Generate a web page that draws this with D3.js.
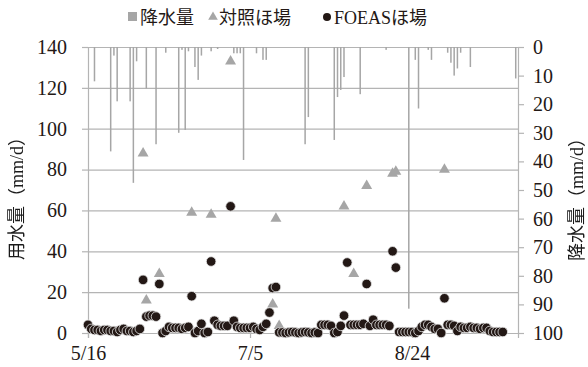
<!DOCTYPE html>
<html>
<head>
<meta charset="utf-8">
<script src="https://cdn.jsdelivr.net/npm/d3@7"></script>
<style>
  body { margin: 0; background: #fff; }
  .axis-title { filter: grayscale(100%); }
</style>
</head>
<body>
<div id="chart"></div>
<script>
// first date of the series; every day index below counts from here
const startDate = '2015-05-16';

// FOEAS field water use (mm/d), one value per day from 5/16
const foeasUse = [
  4, 2, 1.5, 1.5, 1, 1.5, 1.5, 1, 1, 0.5,
  1.5, 2, 1, 1, 0.5, 1, 2, 26, 8, 8.5,
  8.5, 8, 24, 0, 1, 3, 2.5, 2.5, 2.5, 2,
  2.5, 3, 18, 0, 1, 4.5, 0, 0.5, 35, 6,
  4, 3.5, 3.5, 3.5, 62, 6, 3, 2.5, 2.5, 2.5,
  2.5, 3, 2, 1.5, 3, 4.5, 10, 22, 22.5, 0.3,
  0.3, 0, 0.3, 0.5, 0.3, 0, 0.3, 0.5, 0.3, 0,
  0.3, 0, 4, 4, 4, 3.5, 0, 0.5, 3.5, 8.5,
  34.5, 4, 4, 4, 4, 4.5, 24, 3.5, 6.5, 4,
  4, 4, 4, 3.5, 40, 32, 0.5, 0.5, 0.5, 0.5,
  0.5, 0, 1, 3, 4, 4, 3, 2, 2, 0,
  17, 4, 4, 3.5, 1, 3, 2.5, 2.5, 3, 2.5,
  2.5, 2, 2.5, 2.5, 1, 0.5, 0.5, 0.5, 0.5
];

// control field water use (mm/d), measured on some days only
const controlDay = [17, 18, 22, 32, 38, 44, 57, 58, 59, 79, 82, 86, 94, 95, 110];
const controlUse = [88, 16, 29, 59, 58, 133, 14, 56, 3.5, 62, 29, 72, 78, 79, 80];

// daily rainfall (mm/d)
const rainDay = [2, 7, 8, 9, 13, 14, 15, 18, 21, 24, 28, 29, 30, 31, 33, 34, 35, 38, 40,
  45, 46, 47, 48, 52, 54, 55, 67, 68, 76, 77, 78, 79, 84, 92, 99, 101, 102,
  105, 106, 111, 112, 113, 114, 115, 118, 132];
const rainMm = [12, 36.5, 3, 19, 19, 47.5, 5, 14.5, 34, 2, 30, 1, 29, 1.5, 7, 11.5, 3, 1.5, 0.7,
  2.2, 2.2, 2.2, 39.5, 2.2, 4.5, 4.5, 34, 24.5, 32.5, 17.5, 15, 10.5, 16.5, 1, 91.5, 4.5, 21.5,
  1, 4.5, 2, 5.5, 10, 7.5, 2, 7, 11];

const xTickDays = [0, 50, 100];
const useTicks = [0, 20, 40, 60, 80, 100, 120, 140];
const rainTicks = [0, 10, 20, 30, 40, 50, 60, 70, 80, 90, 100];

const legendItems = ['降水量', '対照ほ場', 'FOEASほ場'];

const numFont = '"Liberation Serif", "DejaVu Serif", serif';
const jpFont = '"Liberation Serif", "Noto Sans CJK JP", sans-serif';
const textColor = '#231815';

const t0 = d3.utcParse('%Y-%m-%d')(startDate);
const dateLabel = d => d3.utcFormat('%-m/%-d')(d3.utcDay.offset(t0, d));

const svg = d3.select('#chart').append('svg')
  .attr('width', 588)
  .attr('height', 367);

const x = d3.scaleLinear().domain([0, 132.7]).range([88, 518]);
const yUse = d3.scaleLinear().domain([0, 140]).range([333, 47]);
const yRain = d3.scaleLinear().domain([0, 100]).range([47, 333]);

const gridColor = '#b4b4b4';
const markColor = '#a6a6a6';

const styleAxis = g => {
  g.attr('font-family', numFont).attr('font-size', 20);
  g.selectAll('line, .domain').attr('stroke', gridColor).attr('stroke-width', 1.2);
  g.selectAll('text').attr('fill', textColor);
};

// horizontal gridlines
svg.append('g')
  .attr('transform', 'translate(88,0)')
  .call(d3.axisLeft(yUse).tickValues(useTicks).tickSize(-430).tickFormat(''))
  .call(g => g.select('.domain').remove())
  .call(g => g.selectAll('line').attr('stroke', gridColor).attr('stroke-width', 1.2));

// rainfall bars hanging from the top
svg.append('g')
  .selectAll('rect')
  .data(rainDay.map((d, i) => ({ day: d, mm: rainMm[i] })))
  .join('rect')
  .attr('x', d => x(d.day) - 0.75)
  .attr('width', 1.5)
  .attr('y', yRain(0))
  .attr('height', d => yRain(d.mm) - yRain(0))
  .attr('fill', markColor);

// left axis
svg.append('g')
  .attr('transform', 'translate(88,0)')
  .call(d3.axisLeft(yUse).tickValues(useTicks).tickSize(6).tickPadding(15))
  .call(styleAxis);

// right axis
svg.append('g')
  .attr('transform', 'translate(518,0)')
  .call(d3.axisRight(yRain).tickValues(rainTicks).tickSize(6).tickPadding(9))
  .call(styleAxis);

// bottom axis
svg.append('g')
  .attr('transform', 'translate(0,333)')
  .call(d3.axisBottom(x).tickValues(xTickDays).tickFormat(dateLabel).tickSize(5).tickPadding(8))
  .call(styleAxis);

// control field triangles
const tri = d3.symbol().type(d3.symbolTriangle).size(52);
svg.append('g')
  .selectAll('path')
  .data(controlDay.map((d, i) => ({ day: d, v: controlUse[i] })))
  .join('path')
  .attr('d', tri)
  .attr('transform', d => `translate(${x(d.day)},${yUse(d.v)})`)
  .attr('fill', markColor);

// FOEAS field circles
svg.append('g')
  .selectAll('circle')
  .data(foeasUse.map((v, i) => ({ day: i, v })))
  .join('circle')
  .attr('cx', d => x(d.day))
  .attr('cy', d => yUse(d.v))
  .attr('r', 4.8)
  .attr('fill', textColor)
  .attr('stroke', '#e6e6e6')
  .attr('stroke-width', 0.8);

// axis titles
const titles = [
  { text: '用水量（mm/d）', x: 23, y: 194 },
  { text: '降水量（mm/d）', x: 583, y: 195 }
];
svg.append('g')
  .selectAll('text')
  .data(titles)
  .join('text')
  .attr('class', 'axis-title')
  .attr('transform', d => `translate(${d.x},${d.y}) rotate(-90)`)
  .attr('text-anchor', 'middle')
  .attr('font-family', jpFont)
  .attr('font-size', 18)
  .attr('fill', textColor)
  .text(d => d.text);

// legend
const legend = svg.append('g')
  .attr('font-family', jpFont)
  .attr('font-size', 18)
  .attr('fill', textColor);
const legendX = [128, 207, 322];
legend.append('rect').attr('x', legendX[0]).attr('y', 12).attr('width', 9).attr('height', 9).attr('fill', markColor);
legend.append('path').attr('d', d3.symbol().type(d3.symbolTriangle).size(40))
  .attr('transform', `translate(${legendX[1] + 6},17)`).attr('fill', markColor);
legend.append('circle').attr('cx', legendX[2] + 5).attr('cy', 17).attr('r', 4).attr('fill', textColor);
legend.selectAll('text.item')
  .data(legendItems)
  .join('text')
  .attr('class', 'item')
  .attr('x', (d, i) => legendX[i] + 12)
  .attr('y', 24)
  .text(d => d);
</script>
</body>
</html>
